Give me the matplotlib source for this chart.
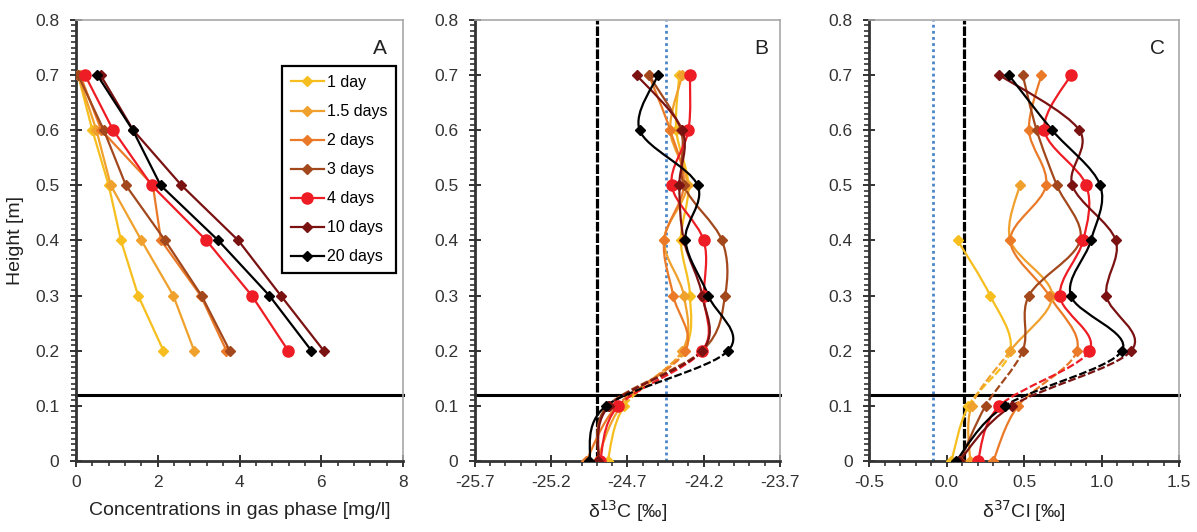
import numpy as np
import matplotlib
matplotlib.use('Agg')
import matplotlib.pyplot as plt
from matplotlib.path import Path
from matplotlib.patches import PathPatch
from matplotlib.ticker import MultipleLocator, FixedLocator

plt.rcParams['font.family'] = ['Liberation Sans', 'DejaVu Sans']

# series names and colours
labels = ['1 day', '1.5 days', '2 days', '3 days', '4 days', '10 days', '20 days']
colors = ['#F6BE1E', '#F0A02C', '#EA7A28', '#A2481C', '#EE1C24', '#7A1212', '#000000']
markers = ['D', 'D', 'D', 'D', 'o', 'D', 'D']

# panel A: concentrations (heights 0.7 .. 0.2)
h_a = [0.7, 0.6, 0.5, 0.4, 0.3, 0.2]
conc = {
    '1 day':    [0.05, 0.40, 0.80, 1.10, 1.52, 2.14],
    '1.5 days': [0.05, 0.50, 0.85, 1.60, 2.38, 2.89],
    '2 days':   [0.10, 0.62, 1.88, 2.08, 3.05, 3.68],
    '3 days':   [0.05, 0.68, 1.22, 2.18, 3.07, 3.76],
    '4 days':   [0.22, 0.91, 1.85, 3.19, 4.30, 5.19],
    '10 days':  [0.60, 1.40, 2.58, 3.97, 5.01, 6.06],
    '20 days':  [0.52, 1.39, 2.07, 3.48, 4.73, 5.76],
}

# panels B and C: heights 0.7 .. 0
h_bc = [0.7, 0.6, 0.5, 0.4, 0.3, 0.2, 0.1, 0.0]
d13c = {
    '1 day':    [-24.36, -24.38, -24.30, -24.35, -24.29, -24.33, -24.72, -24.83],
    '1.5 days': [-24.34, -24.42, -24.31, -24.46, -24.33, -24.34, -24.74, -24.90],
    '2 days':   [-24.56, -24.42, -24.33, -24.46, -24.40, -24.32, -24.77, -24.97],
    '3 days':   [-24.56, -24.35, -24.33, -24.08, -24.06, -24.21, -24.83, -24.89],
    '4 days':   [-24.29, -24.30, -24.41, -24.20, -24.20, -24.21, -24.76, -24.88],
    '10 days':  [-24.64, -24.34, -24.36, -24.33, -24.21, -24.21, -24.82, -24.89],
    '20 days':  [-24.50, -24.62, -24.24, -24.32, -24.17, -24.04, -24.84, -24.95],
}
nan = np.nan
d37cl = {
    '1 day':    [nan, nan, nan, 0.07, 0.28, 0.41, 0.14, 0.03],
    '1.5 days': [nan, nan, 0.47, 0.41, 0.68, 0.41, 0.16, 0.15],
    '2 days':   [0.61, 0.53, 0.64, 0.41, 0.66, 0.84, 0.46, 0.30],
    '3 days':   [0.49, 0.58, 0.71, 0.86, 0.53, 0.49, 0.25, 0.085],
    '4 days':   [0.80, 0.63, 0.90, 0.88, 0.73, 0.92, 0.34, 0.20],
    '10 days':  [0.34, 0.855, 0.81, 1.09, 1.03, 1.19, 0.42, 0.08],
    '20 days':  [0.40, 0.68, 0.99, 0.93, 0.80, 1.13, 0.375, 0.06],
}

layer_top = 0.12
ref_b = [-24.9, -24.45]   # dashed black, dotted blue
ref_c = [0.11, -0.09]


def smooth_segments(ax, xs, ys, color, lw=1.6):
    # Excel-style smoothed line, dashed between 0.2 and 0.1 m
    pts = [(x, y) for x, y in zip(xs, ys) if not np.isnan(x)]
    n = len(pts)
    P = np.array(pts)
    for i in range(n - 1):
        p0 = P[max(i - 1, 0)]
        p1 = P[i]
        p2 = P[i + 1]
        p3 = P[min(i + 2, n - 1)]
        c1 = p1 + (p2 - p0) / 6.0
        c2 = p2 - (p3 - p1) / 6.0
        path = Path([p1, c1, c2, p2], [Path.MOVETO, Path.CURVE4, Path.CURVE4, Path.CURVE4])
        dashed = abs(p1[1] - 0.2) < 1e-6 and abs(p2[1] - 0.1) < 1e-6
        ls = (0, (3.5, 1.2)) if dashed else '-'
        ax.add_patch(PathPatch(path, facecolor='none', edgecolor=color, lw=lw,
                               linestyle=ls, zorder=3))


fig = plt.figure(figsize=(11.97, 5.32), dpi=100)
ax_a = fig.add_axes([0.0635, 0.1335, 0.2732, 0.829])
ax_b = fig.add_axes([0.3968, 0.1335, 0.2548, 0.829])
ax_c = fig.add_axes([0.7262, 0.1335, 0.2590, 0.829])

for i, lab in enumerate(labels):
    ms = 8 if markers[i] == 'o' else 5
    ax_a.plot(conc[lab], h_a, color=colors[i], lw=1.6, marker=markers[i], ms=ms,
              label=lab, zorder=3)

for ax, data in [(ax_b, d13c), (ax_c, d37cl)]:
    for i, lab in enumerate(labels):
        ms = 8 if markers[i] == 'o' else 5
        smooth_segments(ax, data[lab], h_bc, colors[i])
        ax.plot(data[lab], h_bc, ls='none', color=colors[i], marker=markers[i], ms=ms,
                zorder=4)

ax_b.axvline(ref_b[0], color='black', lw=2.3, ls=(0, (3, 0.6)), zorder=2)
ax_b.axvline(ref_b[1], color='#4A86C8', lw=2.0, ls=(0, (1, 1.2)), zorder=2)
ax_c.axvline(ref_c[0], color='black', lw=2.3, ls=(0, (3, 0.6)), zorder=2)
ax_c.axvline(ref_c[1], color='#4A86C8', lw=2.0, ls=(0, (1, 1.2)), zorder=2)

ax_a.set_xlim(0, 8)
ax_a.xaxis.set_major_locator(MultipleLocator(2))
ax_a.xaxis.set_minor_locator(MultipleLocator(0.4))
ax_b.set_xlim(-25.7, -23.7)
ax_b.xaxis.set_major_locator(FixedLocator([-25.7, -25.2, -24.7, -24.2, -23.7]))
ax_b.xaxis.set_minor_locator(FixedLocator(np.arange(-25.7, -23.65, 0.1)))
ax_b.set_xticklabels(['-25.7', '-25.2', '-24.7', '-24.2', '-23.7'])
ax_c.set_xlim(-0.5, 1.5)
ax_c.xaxis.set_major_locator(MultipleLocator(0.5))
ax_c.xaxis.set_minor_locator(MultipleLocator(0.1))
ax_c.set_xticks([-0.5, 0, 0.5, 1.0, 1.5])
ax_c.set_xticklabels(['-0.5', '0.0', '0.5', '1.0', '1.5'])

ax_a.set_xlabel('Concentrations in gas phase [mg/l]', fontsize=14, color='#222222',
                labelpad=9)
ax_b.set_xlabel('δ$^{13}$C [‰]', fontsize=14, color='#222222', labelpad=6)
ax_c.set_xlabel('δ$^{37}$Cl [‰]', fontsize=14, color='#222222', labelpad=6)
ax_a.set_ylabel('Height [m]', fontsize=14, color='#222222', labelpad=8)

for ax, letter, lx in [(ax_a, 'A', 0.93), (ax_b, 'B', 0.94), (ax_c, 'C', 0.93)]:
    ax.set_ylim(0, 0.8)
    ax.yaxis.set_major_locator(MultipleLocator(0.1))
    ax.yaxis.set_minor_locator(MultipleLocator(0.01))
    ax.set_yticks([0, 0.1, 0.2, 0.3, 0.4, 0.5, 0.6, 0.7, 0.8])
    ax.set_yticklabels(['0', '0.1', '0.2', '0.3', '0.4', '0.5', '0.6', '0.7', '0.8'])
    ax.axhline(layer_top, color='black', lw=2.2, zorder=2, clip_on=False)
    ax.tick_params(which='major', direction='inout', length=8, width=1.4,
                   colors='#333333', labelsize=12.5)
    ax.tick_params(axis='x', which='major', pad=6)
    ax.tick_params(axis='y', which='major', pad=8)
    ax.tick_params(which='minor', direction='out', length=3.5, width=1.2, colors='#333333')
    for s in ['left', 'bottom']:
        ax.spines[s].set_color('#333333')
        ax.spines[s].set_linewidth(2.0)
    for s in ['top', 'right']:
        ax.spines[s].set_color('#A8A8A8')
        ax.spines[s].set_linewidth(1.2)
    ax.text(lx, 0.935, letter, transform=ax.transAxes, fontsize=15,
            ha='center', va='center', color='#222222')

leg = ax_a.legend(loc='upper right', bbox_to_anchor=(0.978, 0.895), fontsize=11.5,
                  frameon=True, fancybox=False, edgecolor='black', framealpha=1,
                  handlelength=2.1, labelspacing=0.88, handletextpad=0.15,
                  borderpad=0.55, borderaxespad=0)
leg.get_frame().set_linewidth(1.6)

fig.savefig('out.png', dpi=100)
